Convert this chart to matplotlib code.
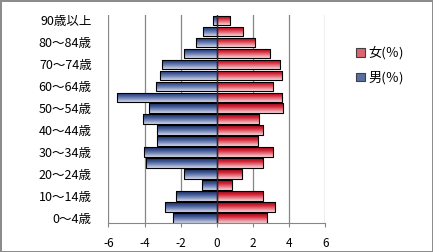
import matplotlib
matplotlib.use("Agg")
import matplotlib.pyplot as plt
import numpy as np
from matplotlib.colors import LinearSegmentedColormap
from matplotlib.patches import Patch

plt.rcParams['font.family'] = ['Noto Sans CJK JP', 'DejaVu Sans']

# age groups, bottom to top
ages = ["0～4歳", "5～9歳", "10～14歳", "15～19歳", "20～24歳", "25～29歳",
        "30～34歳", "35～39歳", "40～44歳", "45～49歳", "50～54歳", "55～59歳",
        "60～64歳", "65～69歳", "70～74歳", "75～79歳", "80～84歳", "85～89歳",
        "90歳以上"]
male = [-2.44, -2.89, -2.28, -0.81, -1.83, -3.90, -4.03, -3.31, -3.31, -4.09,
        -3.76, -5.50, -3.37, -3.13, -3.06, -1.83, -1.14, -0.78, -0.22]
female = [2.77, 3.23, 2.55, 0.82, 1.38, 2.55, 3.10, 2.27, 2.55, 2.32,
          3.66, 3.60, 3.10, 3.60, 3.51, 2.95, 2.11, 1.43, 0.73]
xticks = [-6, -4, -2, 0, 2, 4, 6]

blue_cm = LinearSegmentedColormap.from_list(
    "b", ["#1c2d5e", "#3d5694", "#8090bd", "#d3d7ea"])
red_cm = LinearSegmentedColormap.from_list(
    "r", ["#9a0a1c", "#d42335", "#e67a85", "#f6d6da"])

fig = plt.figure(figsize=(4.33, 2.52), dpi=100)
fig.patch.set_edgecolor("#8c8c8c")
fig.patch.set_linewidth(2)
ax = fig.add_axes([0.2503, 0.1139, 0.501, 0.8266])

y = np.arange(len(ages))
grad = np.linspace(0, 1, 64).reshape(-1, 1)


def gradient_bars(vals, cmap):
    bars = ax.barh(y, vals, height=0.86, color="none", edgecolor="black",
                   linewidth=0.8, zorder=3)
    for b in bars:
        x0, y0, w, h = b.get_x(), b.get_y(), b.get_width(), b.get_height()
        im = ax.imshow(grad, cmap=cmap, aspect="auto", origin="upper",
                       extent=(x0, x0 + w, y0, y0 + h), zorder=2,
                       interpolation="bilinear")
        im.set_clip_path(b)


gradient_bars(male, blue_cm)
gradient_bars(female, red_cm)

ax.set_xlim(-6, 6)
ax.set_ylim(-0.5, len(ages) - 0.5)
ax.set_xticks(xticks)
ax.set_xticklabels([str(t) for t in xticks], fontsize=8.5)
ax.set_yticks(y[::2])
ax.set_yticklabels(ages[::2], fontsize=9)
ax.tick_params(axis="y", length=0, pad=12)
ax.tick_params(axis="x", length=3, color="#868686", pad=7)

for t in xticks:
    if t != 0:
        ax.axvline(t, color="#868686", linewidth=0.9, zorder=1)
ax.axvline(0, color="#2a2a2a", linewidth=1.0, zorder=4)

for s in ["top", "right", "left"]:
    ax.spines[s].set_visible(False)
ax.spines["bottom"].set_color("#868686")

handles = [Patch(facecolor="#dc6470", edgecolor="#404040", linewidth=0.8),
           Patch(facecolor="#5a6ea3", edgecolor="#404040", linewidth=0.8)]
fig.legend(handles, ["女(％)", "男(％)"], loc="center left",
           bbox_to_anchor=(0.795, 0.74), frameon=False, fontsize=9.5,
           handlelength=0.65, handleheight=0.65, handletextpad=0.3,
           labelspacing=0.85)

fig.savefig("out.png", dpi=100)
